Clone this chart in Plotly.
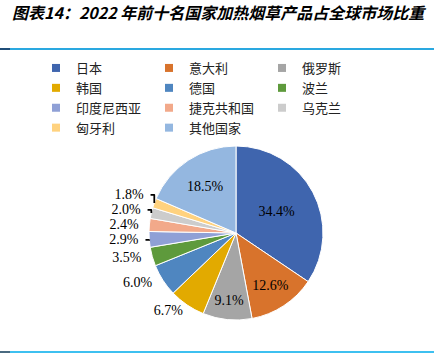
import plotly.graph_objects as go

countries = ["日本", "意大利", "俄罗斯", "韩国", "德国", "波兰", "印度尼西亚", "捷克共和国", "乌克兰", "匈牙利", "其他国家"]
shares = [34.4, 12.6, 9.1, 6.7, 6.0, 3.5, 2.9, 2.4, 2.0, 1.8, 18.5]
colors = ["#3F65AE", "#D8732C", "#A5A5A5", "#E2AA00", "#4F86C0", "#5E9A3C",
          "#8FA0D6", "#F2A98A", "#CCCCCC", "#FFD27F", "#94B7E0"]
text_pos = ["inside", "inside", "inside", "outside", "outside", "outside",
            "outside", "outside", "outside", "outside", "inside"]

W, H = 434, 361
PAD = "\u00a0\u00a0"
templates = []
for i, p in enumerate(text_pos):
    if p == "outside" and i >= 4:
        templates.append("%{value:.1f}%" + PAD)
    else:
        templates.append("%{value:.1f}%")

fig = go.Figure()
fig.add_trace(go.Pie(
    labels=countries, values=shares, sort=False, direction="clockwise", rotation=0,
    marker=dict(colors=colors, line=dict(color="white", width=1)),
    texttemplate=templates, textposition=text_pos,
    insidetextorientation="horizontal",
    textfont=dict(family="Liberation Serif", size=14, color="black"),
    showlegend=False, hoverinfo="label+value",
    domain=dict(x=[(236 - 87) / W, (236 + 87) / W], y=[1 - (233 + 87) / H, 1 - (233 - 87) / H]),
))
for name, c in zip(countries, colors):
    fig.add_trace(go.Scatter(x=[None], y=[None], mode="markers", name=name,
                             marker=dict(symbol="square", size=8, color=c)))

fig.update_layout(
    width=W, height=H, margin=dict(l=0, r=0, t=0, b=0),
    paper_bgcolor="white", plot_bgcolor="white",
    xaxis=dict(visible=False), yaxis=dict(visible=False),
    title=dict(text="图表14：2022 年前十名国家加热烟草产品占全球市场比重",
               x=12 / W, xanchor="left", y=1 - 13 / H, yanchor="middle",
               font=dict(family="Noto Sans CJK SC", size=16, color="black", weight="bold", style="italic")),
    legend=dict(orientation="h", x=36 / W, xanchor="left", y=1 - 53 / H, yanchor="top",
                entrywidth=68, entrywidthmode="pixels", traceorder="normal",
                font=dict(family="Noto Sans CJK SC", size=13, color="#222222"),
                bgcolor="rgba(0,0,0,0)", tracegroupgap=0),
    shapes=[
        dict(type="line", xref="paper", yref="paper", x0=0, x1=1, y0=1 - 49 / H, y1=1 - 49 / H,
             line=dict(color="#2AA8E0", width=2)),
        dict(type="line", xref="paper", yref="paper", x0=0, x1=10 / W, y0=1 - 49 / H, y1=1 - 49 / H,
             line=dict(color="#1F4E79", width=2)),
        dict(type="line", xref="paper", yref="paper", x0=0, x1=1, y0=1 - 352 / H, y1=1 - 352 / H,
             line=dict(color="#3EC0F0", width=2)),
        dict(type="line", xref="paper", yref="paper", x0=0, x1=10 / W, y0=1 - 352 / H, y1=1 - 352 / H,
             line=dict(color="#4A6A80", width=2)),
    ],
)
fig.write_html("out.html", config={"displayModeBar": False},
               post_script="document.body.style.margin='0';document.body.style.overflow='hidden';")
